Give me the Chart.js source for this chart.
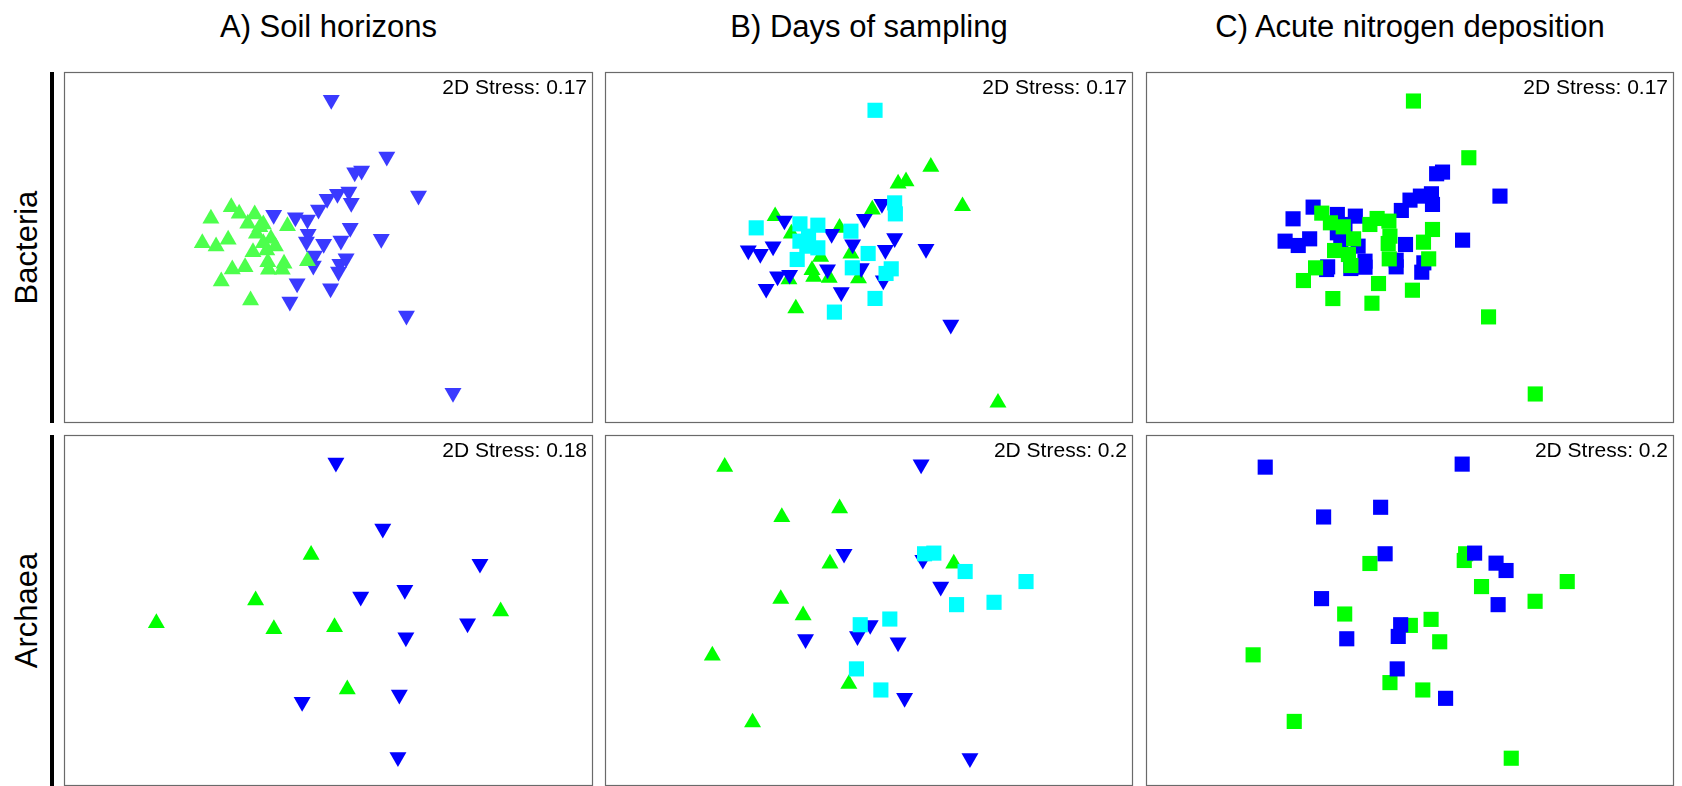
<!DOCTYPE html>
<html>
<head>
<meta charset="utf-8">
<script src="https://cdn.jsdelivr.net/npm/chart.js@4/dist/chart.umd.min.js"></script>
<style>
html,body{margin:0;padding:0;background:#fff;width:1682px;height:786px;overflow:hidden;position:relative;font-family:"Liberation Sans",Arial,sans-serif;color:#000;}
.title{position:absolute;top:11px;font-size:31px;line-height:31px;text-align:center;white-space:nowrap;}
.row{position:absolute;width:351px;height:31px;font-size:31px;line-height:31px;text-align:center;white-space:nowrap;transform:rotate(-90deg);transform-origin:50% 50%;}
.bar{position:absolute;left:50px;width:4px;background:#000;}
.stress{position:absolute;font-size:21px;line-height:21px;text-align:right;white-space:nowrap;}
.panel{position:absolute;}
</style>
</head>
<body>
<script>
// ---------- text ----------
const columnTitles = ["A) Soil horizons", "B) Days of sampling", "C) Acute nitrogen deposition"];
const rowLabels = ["Bacteria", "Archaea"];
const stressBacteria = ["0.17", "0.17", "0.17"];
const stressArchaea = ["0.18", "0.2", "0.2"];

// ---------- NMDS coordinates (NMDS1, NMDS2) ----------
// Bacteria – soil horizons
const bacHorizon1 = [[-0.564,0.246],[-0.518,0.206],[-0.682,0.176],[-0.428,0.202],[-0.468,0.146],[-0.378,0.142],[-0.238,0.132],[-0.418,0.086],[-0.334,0.056],[-0.732,0.03],[-0.652,0.01],[-0.582,0.05],[-0.378,0.03],[-0.308,0.01],[-0.438,-0.024],[-0.358,-0.014],[-0.122,-0.078],[-0.352,-0.084],[-0.258,-0.094],[-0.558,-0.128],[-0.484,-0.114],[-0.348,-0.13],[-0.268,-0.13],[-0.622,-0.2],[-0.452,-0.314],[-0.398,0.126]];
const bacHorizon2 = [[0.016,0.888],[0.338,0.548],[0.152,0.454],[0.192,0.464],[0.522,0.314],[-0.008,0.294],[0.052,0.324],[0.118,0.338],[0.132,0.27],[-0.058,0.23],[-0.318,0.198],[-0.192,0.184],[-0.122,0.17],[0.126,0.12],[-0.118,0.084],[-0.128,0.038],[-0.028,0.024],[0.072,0.044],[0.306,0.054],[-0.082,-0.046],[0.102,-0.062],[0.066,-0.096],[-0.088,-0.106],[0.058,-0.142],[-0.182,-0.212],[0.012,-0.242],[-0.224,-0.322],[0.452,-0.406],[0.722,-0.87]];
// Bacteria – days of sampling
const bacDay1 = [[0.362,0.486],[0.172,0.386],[0.218,0.4],[0.546,0.25],[0.022,0.23],[-0.542,0.19],[-0.168,0.12],[-0.448,0.086],[-0.102,-0.034],[-0.278,-0.054],[-0.328,-0.134],[-0.318,-0.174],[-0.462,-0.19],[-0.228,-0.18],[-0.058,-0.184],[-0.422,-0.364],[0.752,-0.93]];
const bacDay2 = [[0.078,0.264],[-0.488,0.164],[-0.024,0.174],[-0.214,0.084],[-0.092,0.02],[0.152,0.058],[0.098,-0.012],[0.334,-0.006],[-0.698,-0.016],[-0.628,-0.036],[-0.554,0.008],[-0.238,-0.13],[-0.042,-0.122],[-0.528,-0.172],[-0.458,-0.162],[0.086,-0.196],[-0.594,-0.246],[-0.158,-0.266],[0.478,-0.462]];
const bacDay3 = [[0.038,0.826],[-0.652,0.12],[-0.398,0.144],[-0.294,0.136],[-0.102,0.1],[0.152,0.27],[0.156,0.204],[-0.398,0.04],[-0.348,0.07],[-0.294,0],[-0.358,0.01],[-0.414,-0.07],[-0.002,-0.034],[-0.094,-0.12],[0.132,-0.126],[0.102,-0.154],[0.038,-0.304],[-0.198,-0.386]];
// Bacteria – acute nitrogen deposition
const bacControl = [[0.152,0.444],[0.186,0.454],[0.518,0.31],[-0.002,0.286],[0.058,0.31],[0.122,0.324],[0.128,0.26],[-0.052,0.224],[-0.562,0.244],[-0.678,0.174],[-0.422,0.2],[-0.318,0.19],[-0.422,0.09],[-0.378,0.14],[-0.402,0.05],[-0.028,0.02],[0.302,0.046],[-0.724,0.04],[-0.648,0.014],[-0.582,0.054],[-0.302,0.01],[-0.082,-0.074],[-0.082,-0.114],[-0.262,-0.08],[-0.262,-0.116],[-0.344,-0.124],[-0.478,-0.114],[-0.484,-0.13],[0.078,-0.09],[0.066,-0.146]];
const bacNitrogen = [[0.018,0.88],[0.338,0.54],[-0.512,0.208],[-0.462,0.15],[-0.388,0.126],[-0.234,0.14],[-0.192,0.176],[-0.124,0.16],[0.128,0.11],[-0.118,0.07],[-0.328,0.054],[-0.128,0.026],[0.076,0.034],[-0.438,-0.016],[-0.358,-0.04],[-0.344,-0.106],[-0.122,-0.066],[0.106,-0.066],[-0.548,-0.12],[-0.618,-0.196],[-0.184,-0.214],[0.012,-0.254],[-0.448,-0.304],[-0.222,-0.332],[0.452,-0.414],[0.722,-0.876]];
// Archaea – soil horizons
const arcHorizon1 = [[-0.102,0.334],[-0.424,0.062],[-1.0,-0.074],[-0.318,-0.11],[0.034,-0.098],[0.998,-0.004],[0.108,-0.47]];
const arcHorizon2 = [[0.042,0.884],[0.314,0.49],[0.878,0.28],[0.186,0.084],[0.442,0.124],[0.806,-0.076],[0.448,-0.16],[-0.154,-0.546],[0.41,-0.502],[0.402,-0.876]];
// Archaea – days of sampling
const arcDay1 = [[-0.84,0.86],[-0.508,0.56],[-0.172,0.612],[-0.228,0.282],[0.492,0.282],[-0.514,0.07],[-0.384,-0.028],[-0.912,-0.268],[-0.118,-0.438],[-0.678,-0.668]];
const arcDay2 = [[0.302,0.874],[-0.146,0.34],[0.312,0.304],[0.416,0.144],[0.006,-0.086],[-0.068,-0.152],[-0.37,-0.17],[0.168,-0.19],[0.206,-0.522],[0.586,-0.882]];
const arcDay3 = [[0.322,0.34],[0.376,0.344],[0.558,0.234],[0.912,0.174],[0.508,0.036],[0.726,0.05],[0.12,-0.05],[-0.052,-0.084],[-0.074,-0.348],[0.068,-0.474]];
// Archaea – acute nitrogen deposition
const arcControl = [[-0.838,0.858],[0.302,0.876],[-0.5,0.56],[-0.17,0.618],[-0.144,0.34],[0.374,0.344],[0.498,0.284],[0.556,0.24],[-0.512,0.072],[0.51,0.036],[-0.054,-0.084],[-0.068,-0.154],[-0.366,-0.168],[-0.074,-0.348],[0.206,-0.524]];
const arcNitrogen = [[-0.232,0.282],[0.314,0.3],[0.322,0.34],[0.414,0.144],[0.91,0.174],[0.724,0.056],[-0.378,-0.02],[0.122,-0.052],[0.002,-0.088],[0.172,-0.186],[-0.908,-0.264],[-0.116,-0.43],[0.074,-0.474],[-0.67,-0.662],[0.586,-0.882]];

// axis limits of each ordination panel [xmin, xmax, ymin, ymax]
const bacHorizonLimits = [-1.534, 1.534, -1.05, 1.056];
const bacDayLimits = [-1.53, 1.536, -1.052, 1.056];
const bacNitrogenLimits = [-1.528, 1.524, -1.05, 1.054];
const arcHorizonLimits = [-1.536, 1.534, -1.048, 1.05];
const arcDayLimits = [-1.536, 1.534, -1.048, 1.05];
const arcNitrogenLimits = [-1.528, 1.528, -1.048, 1.05];

// ---------- layout & style ----------
const colLeft = [64, 605, 1146];
const colWidth = [529, 528, 528];
const rowTop = [72, 435];
const rowHeight = 351;
const PAD = 2;

const GREEN = '#00ff00', BLUE = '#0000ff', CYAN = '#00ffff';
const GREEN_L = '#4dff4d', BLUE_L = '#3a3aff';
const TRI_R = 9.8, SQ_R = 10.7;

const up = (pts, color) => ({pts, style: 'triangle', rot: 0, r: TRI_R, color});
const down = (pts, color) => ({pts, style: 'triangle', rot: 180, r: TRI_R, color});
const sq = (pts, color) => ({pts, style: 'rect', rot: 0, r: SQ_R, color});

// first series is drawn on top
const panels = [
  {row: 0, col: 0, lim: bacHorizonLimits, stress: stressBacteria[0], series: [up(bacHorizon1, GREEN_L), down(bacHorizon2, BLUE_L)]},
  {row: 0, col: 1, lim: bacDayLimits, stress: stressBacteria[1], series: [sq(bacDay3, CYAN), down(bacDay2, BLUE), up(bacDay1, GREEN)]},
  {row: 0, col: 2, lim: bacNitrogenLimits, stress: stressBacteria[2], series: [sq(bacNitrogen, GREEN), sq(bacControl, BLUE)]},
  {row: 1, col: 0, lim: arcHorizonLimits, stress: stressArchaea[0], series: [up(arcHorizon1, GREEN), down(arcHorizon2, BLUE)]},
  {row: 1, col: 1, lim: arcDayLimits, stress: stressArchaea[1], series: [sq(arcDay3, CYAN), down(arcDay2, BLUE), up(arcDay1, GREEN)]},
  {row: 1, col: 2, lim: arcNitrogenLimits, stress: stressArchaea[2], series: [sq(arcControl, BLUE), sq(arcNitrogen, GREEN)]}
];

const framePlugin = {
  id: 'frame',
  beforeDatasetsDraw(chart) {
    const {ctx, chartArea: a} = chart;
    ctx.save();
    ctx.strokeStyle = '#6a6a6a';
    ctx.lineWidth = 1.2;
    ctx.strokeRect(a.left + 0.5, a.top + 0.5, a.right - a.left - 1, a.bottom - a.top - 1);
    ctx.restore();
  }
};

function addDiv(cls, text, css) {
  const d = document.createElement('div');
  d.className = cls;
  if (text) d.textContent = text;
  Object.assign(d.style, css);
  document.body.appendChild(d);
  return d;
}

// column titles
columnTitles.forEach((t, c) => addDiv('title', t, {left: colLeft[c] + 'px', width: colWidth[c] + 'px'}));
// row labels and bars
rowLabels.forEach((t, r) => {
  const cy = rowTop[r] + rowHeight / 2;
  addDiv('row', t, {left: (26.5 - 175.5) + 'px', top: (cy - 15.5) + 'px'});
  addDiv('bar', '', {top: rowTop[r] + 'px', height: rowHeight + 'px'});
});

panels.forEach(p => {
  const w = colWidth[p.col], h = rowHeight;
  const wrap = addDiv('panel', '', {left: (colLeft[p.col] - PAD) + 'px', top: (rowTop[p.row] - PAD) + 'px'});
  const cv = document.createElement('canvas');
  cv.width = w + 2 * PAD; cv.height = h + 2 * PAD;
  cv.style.width = cv.width + 'px'; cv.style.height = cv.height + 'px';
  wrap.appendChild(cv);
  new Chart(cv, {
    type: 'scatter',
    data: {
      datasets: p.series.map(s => ({
        data: s.pts.map(q => ({x: q[0], y: q[1]})),
        showLine: false,
        pointStyle: s.style,
        pointRotation: s.rot,
        pointRadius: s.r,
        pointHoverRadius: s.r,
        pointBackgroundColor: s.color,
        backgroundColor: s.color,
        pointBorderWidth: 0,
        borderWidth: 0,
        clip: false
      }))
    },
    options: {
      responsive: false,
      animation: false,
      events: [],
      layout: {padding: PAD, autoPadding: false},
      plugins: {legend: {display: false}, tooltip: {enabled: false}, title: {display: false}},
      scales: {
        x: {type: 'linear', display: false, min: p.lim[0], max: p.lim[1]},
        y: {type: 'linear', display: false, min: p.lim[2], max: p.lim[3]}
      }
    },
    plugins: [framePlugin]
  });
  addDiv('stress', '2D Stress: ' + p.stress, {
    left: (colLeft[p.col] + w - 6 - 300) + 'px', width: '300px',
    top: (rowTop[p.row] + 4) + 'px'
  });
});
</script>
</body>
</html>
